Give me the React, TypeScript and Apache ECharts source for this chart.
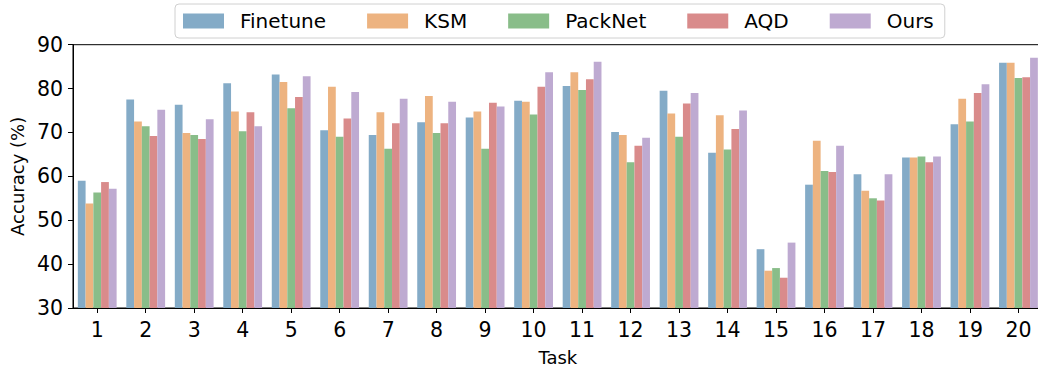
import React, { useEffect, useRef } from "react";
import * as echarts from "echarts";

const tasks = ["1", "2", "3", "4", "5", "6", "7", "8", "9", "10", "11", "12", "13", "14", "15", "16", "17", "18", "19", "20"];
const finetune = [59.0, 77.5, 76.3, 81.2, 83.2, 70.5, 69.4, 72.3, 73.4, 77.2, 80.6, 70.1, 79.5, 65.4, 43.4, 58.1, 60.5, 64.3, 71.9, 85.9];
const ksm = [53.8, 72.5, 69.9, 74.8, 81.5, 80.4, 74.6, 78.3, 74.8, 77.0, 83.7, 69.4, 74.3, 73.9, 38.5, 68.1, 56.7, 64.3, 77.7, 85.9];
const packnet = [56.3, 71.4, 69.4, 70.3, 75.5, 69.0, 66.3, 69.9, 66.3, 74.1, 79.7, 63.2, 69.0, 66.1, 39.1, 61.2, 55.0, 64.5, 72.5, 82.4];
const aqd = [58.7, 69.2, 68.5, 74.6, 78.1, 73.2, 72.1, 72.1, 76.8, 80.4, 82.1, 67.0, 76.6, 70.8, 36.9, 61.0, 54.5, 63.2, 79.0, 82.6];
const ours = [57.2, 75.2, 73.0, 71.4, 82.8, 79.2, 77.7, 77.0, 75.9, 83.7, 86.1, 68.8, 79.0, 75.0, 44.9, 67.0, 60.5, 64.5, 81.0, 87.0];

const seriesNames = ["Finetune", "KSM", "PackNet", "AQD", "Ours"];
const seriesValues = [finetune, ksm, packnet, aqd, ours];
const colors = ["#84ABC7", "#EDB380", "#89BD89", "#D98B8B", "#BEAAD1"];

const FONT = "DejaVu Sans";

export default function App() {
  const ref = useRef<HTMLDivElement>(null);
  useEffect(() => {
    if (!ref.current) return;
    const chart = echarts.init(ref.current, undefined, { renderer: "svg" });
    chart.setOption({
      animation: false,
      textStyle: { fontFamily: FONT, color: "#000" },
      legend: {
        data: seriesNames,
        left: 175,
        top: 4,
        icon: "rect",
        itemWidth: 41,
        itemHeight: 15,
        itemGap: 41,
        padding: [7, 11, 7, 8],
        borderColor: "#d0d0d0",
        borderWidth: 1,
        borderRadius: 4,
        backgroundColor: "rgba(255,255,255,0.8)",
        textStyle: { fontFamily: FONT, fontSize: 20, color: "#000", padding: [0, 0, 0, 11] },
      },
      grid: {
        left: 72.7,
        top: 44.7,
        width: 970,
        height: 269.5,
        show: true,
        borderColor: "#000",
        borderWidth: 1,
        containLabel: false,
      },
      xAxis: {
        type: "category",
        data: tasks,
        name: "Task",
        nameLocation: "middle",
        nameGap: 40,
        nameTextStyle: { fontFamily: FONT, fontSize: 18, color: "#000" },
        axisLine: { show: true, lineStyle: { color: "#000", width: 1 } },
        axisTick: { show: true, alignWithLabel: true, length: 5, lineStyle: { color: "#000", width: 1 } },
        axisLabel: { fontFamily: FONT, fontSize: 20.5, color: "#000", margin: 11 },
        splitLine: { show: false },
      },
      yAxis: {
        type: "value",
        min: 30,
        max: 90,
        interval: 10,
        name: "Accuracy (%)",
        nameLocation: "middle",
        nameGap: 43.5,
        nameTextStyle: { fontFamily: FONT, fontSize: 18, color: "#000" },
        axisLine: { show: true, lineStyle: { color: "#000", width: 1 } },
        axisTick: { show: true, length: 5, lineStyle: { color: "#000", width: 1 } },
        axisLabel: { fontFamily: FONT, fontSize: 20.5, color: "#000", margin: 10 },
        splitLine: { show: false },
      },
      series: seriesNames.map((name, i) => ({
        name,
        type: "bar",
        data: seriesValues[i],
        barGap: "0%",
        barCategoryGap: "20%",
        itemStyle: { color: colors[i] },
      })),
    });
    return () => chart.dispose();
  }, []);
  return (
    <div style={{ position: "fixed", left: 0, top: 0, width: 1038, height: 371, overflow: "hidden", background: "#fff" }}>
      <div ref={ref} style={{ width: 1050, height: 371 }} />
    </div>
  );
}
